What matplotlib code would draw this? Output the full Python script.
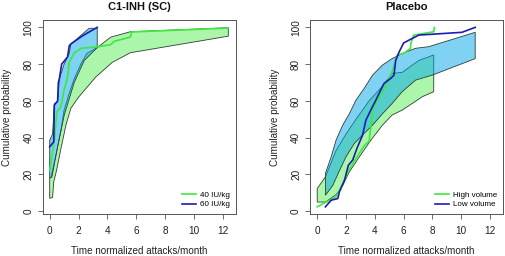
import numpy as np
import matplotlib
matplotlib.use("Agg")
import matplotlib.pyplot as plt

plt.rcParams['font.family'] = ['Liberation Sans', 'DejaVu Sans']

# ---------------- data: left panel (C1-INH SC) ----------------
titles = ["C1-INH (SC)", "Placebo"]
xlabel = "Time normalized attacks/month"
ylabel = "Cumulative probability"
xticks = [0, 2, 4, 6, 8, 10, 12]
yticks = [0, 20, 40, 60, 80, 100]

# 40 IU/kg prediction band
L_g_up_x = [0, 0.09, 0.44, 0.78, 1.0, 1.35, 1.7, 2.16, 2.6, 3.3, 4.24, 5.6, 12.4]
L_g_up_y = [18, 18.6, 31, 44, 55, 64, 72, 80, 86, 89, 94.7, 97.6, 99.8]
L_g_lo_x = [0, 0.2, 0.28, 0.44, 0.78, 1.13, 1.47, 2.0, 3.2, 4.35, 5.6, 12.4]
L_g_lo_y = [7, 7.5, 16, 21, 34, 47, 56, 62, 73, 81, 86.2, 95.2]
# 40 IU/kg observed
L_g_x = [0, 0.15, 0.32, 0.5, 0.78, 1.0, 1.24, 1.36, 1.7, 2.17, 3.2, 4.24, 4.47, 5.6, 5.69, 12.4]
L_g_y = [22, 30, 38.6, 54, 57, 66, 73, 81, 86, 88.6, 89.3, 90.6, 92.4, 94.7, 97.5, 99.6]
# 60 IU/kg prediction band
L_b_up_x = [0, 0.2, 0.32, 0.55, 0.67, 1.0, 1.35, 1.47, 2.16, 2.74, 3.3]
L_b_up_y = [38.6, 42, 58.5, 59.4, 72, 80, 85.7, 90.8, 95.6, 99.5, 99.5]
L_b_lo_x = [0, 0.15, 0.37, 0.55, 1.0, 1.7, 2.4, 3.3]
L_b_lo_y = [18, 18.6, 27.7, 35, 52, 70, 82, 89]
# 60 IU/kg observed
L_b_x = [0, 0.2, 0.28, 0.32, 0.55, 0.6, 0.67, 0.83, 0.94, 1.24, 1.36, 1.47, 2.3, 3.3]
L_b_y = [35, 37, 37.7, 57.7, 60, 70, 72, 80, 81, 84, 90, 91, 95.5, 100]
L_labels = ["40 IU/kg", "60 IU/kg"]

# ---------------- data: right panel (Placebo) ----------------
# High volume prediction band
R_g_up_x = [0, 0.57, 1.31, 2.0, 2.69, 3.6, 4.53, 5.2, 5.9, 6.6, 7.06, 8.09]
R_g_up_y = [12.3, 18.7, 33, 42, 50, 60, 68, 75, 75.5, 79.5, 82, 85]
R_g_lo_x = [0, 0.57, 1.31, 1.77, 2.23, 2.92, 3.72, 4.53, 5.2, 5.9, 6.6, 7.3, 8.09]
R_g_lo_y = [5, 5, 9, 14, 21.4, 29.5, 38.6, 46.8, 52.3, 55, 58.6, 62.3, 65]
# High volume observed
R_g_x = [0, 1.31, 1.77, 2.23, 2.92, 3.3, 3.6, 3.9, 4.4, 4.76, 5.2, 5.56, 6.0, 6.48, 6.5, 6.7, 8.09, 8.14]
R_g_y = [2.4, 7.8, 15, 23, 31.5, 36, 38, 56.8, 63, 68.6, 75.9, 85, 85.8, 88.6, 91.3, 95.8, 97.6, 100]
# Low volume prediction band
R_b_up_x = [0.57, 0.97, 1.31, 1.77, 2.23, 2.69, 3.26, 3.84, 4.53, 5.2, 5.9, 6.83, 7.75, 10.97]
R_b_up_y = [20.5, 29.6, 38.7, 46.8, 53, 60.4, 66.8, 74, 79.5, 83, 85.8, 88.6, 89.5, 97.3]
R_b_lo_x = [0.57, 1.08, 1.54, 2.0, 2.57, 3.26, 3.84, 4.53, 5.2, 5.9, 6.83, 7.98, 10.97]
R_b_lo_y = [8.7, 14, 22, 29.6, 36.8, 42.3, 46.8, 53, 58.6, 65, 71.3, 74, 83]
# Low volume observed
R_b_x = [0.57, 0.97, 1.43, 1.54, 1.9, 2.16, 2.46, 2.8, 3.15, 3.38, 3.72, 4.07, 4.41, 4.64,
         5.1, 5.33, 5.45, 5.68, 6.0, 6.6, 7.06, 10.05, 10.97]
R_b_y = [2.4, 6, 6.9, 10.5, 16.9, 25, 27.8, 35, 41.4, 49.5, 55, 60.4, 65.9, 69.5,
         72.2, 74, 82, 86.5, 91.5, 94, 95.8, 97.3, 100]
R_labels = ["High volume", "Low volume"]

# ---------------- styling ----------------
GREEN_FILL = (0.0, 0.90, 0.0, 0.33)
BLUE_FILL = (0.0, 0.65, 0.92, 0.50)
GREEN_LINE = "#3ee83e"
BLUE_LINE = "#1c1cb4"
EDGE = "#2f3f2f"
AXC = "#555555"
TXT = "#222222"

fig = plt.figure(figsize=(5.05, 2.56), dpi=100)
axL = fig.add_axes([42.5 / 505, 42 / 256, 193 / 505, 194 / 256])
axR = fig.add_axes([310 / 505, 42 / 256, 193 / 505, 194 / 256])


def band(ax, ux, uy, lx, ly, color):
    xs = np.concatenate([np.asarray(ux), np.asarray(lx)[::-1]])
    ys = np.concatenate([np.asarray(uy), np.asarray(ly)[::-1]])
    ax.fill(xs, ys, facecolor=color, edgecolor=EDGE, linewidth=0.6)


def panel(ax, title, g, b, labels):
    band(ax, *g[0], GREEN_FILL)
    ax.plot(*g[1], color=GREEN_LINE, lw=1.2, label=labels[0])
    band(ax, *b[0], BLUE_FILL)
    ax.plot(*b[1], color=BLUE_LINE, lw=1.2, label=labels[1])
    ax.set_xlim(-0.5, 12.9)
    ax.set_ylim(-1.5, 104)
    ax.set_xticks(xticks)
    ax.set_yticks(yticks)
    ax.set_yticklabels([str(t) for t in yticks], rotation=90, va='center')
    ax.tick_params(axis='both', labelsize=7.2, length=3.5, width=0.6,
                   colors=TXT, color=AXC)
    ax.tick_params(axis='x', pad=5)
    ax.tick_params(axis='y', pad=3)
    for s in ax.spines.values():
        s.set_color(AXC)
        s.set_linewidth(0.7)
    ax.set_title(title, fontsize=8, fontweight='bold', pad=7, color='#111111')
    ax.set_xlabel(xlabel, fontsize=7.1, color=TXT, labelpad=7)
    ax.set_ylabel(ylabel, fontsize=7.1, color=TXT, labelpad=8)
    ax.legend(loc='lower right', frameon=False, fontsize=5.8, handlelength=1.7,
              handletextpad=0.5, labelspacing=0.2, borderaxespad=0.3)


panel(axL, titles[0],
      ((L_g_up_x, L_g_up_y, L_g_lo_x, L_g_lo_y), (L_g_x, L_g_y)),
      ((L_b_up_x, L_b_up_y, L_b_lo_x, L_b_lo_y), (L_b_x, L_b_y)), L_labels)
panel(axR, titles[1],
      ((R_g_up_x, R_g_up_y, R_g_lo_x, R_g_lo_y), (R_g_x, R_g_y)),
      ((R_b_up_x, R_b_up_y, R_b_lo_x, R_b_lo_y), (R_b_x, R_b_y)), R_labels)

fig.savefig("out.png", dpi=100)
